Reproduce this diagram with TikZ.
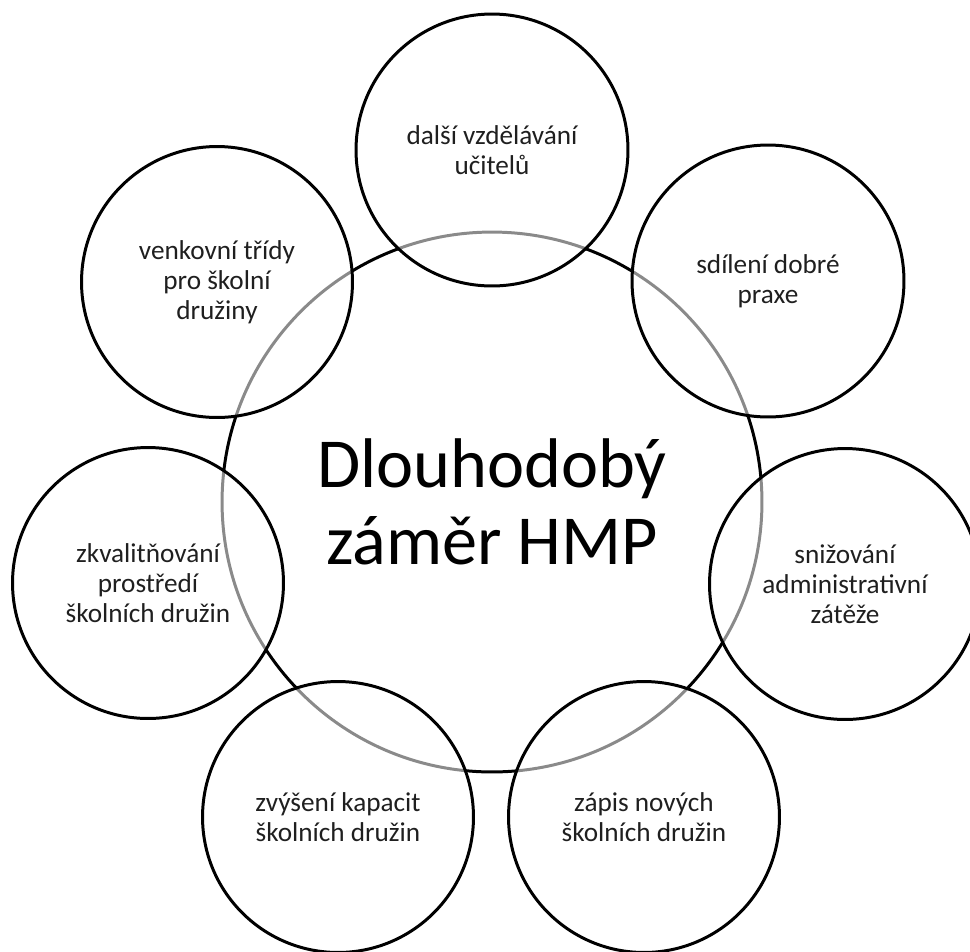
\documentclass[tikz,border=0pt]{standalone}
\usepackage{fontspec}
\setmainfont{Carlito}
\definecolor{hubgray}{HTML}{8A8A8A}
\begin{document}
\begin{tikzpicture}[x=0.02cm,y=-0.02cm,
  hub/.style={circle,draw=none,inner sep=0pt,
    minimum size=10.8cm,align=center,font=\fontsize{40}{44}\selectfont},
  topic/.style={circle,draw=black,line width=1.7pt,inner sep=0pt,
    minimum size=5.42cm,align=center,
    text=black!88,font=\fontsize{15.5}{17}\selectfont},
  hubblack/.style={draw=black,line width=1.7pt},
  hubline/.style={draw=hubgray,line width=1.7pt}]
\useasboundingbox (0,0) rectangle (970,951);
\node[hub] (hub) at (492,502) {Dlouhodobý\\záměr HMP};
\coordinate (c1) at (492,150);
\coordinate (c2) at (768,281);
\coordinate (c3) at (845,584);
\coordinate (c4) at (644,817);
\coordinate (c5) at (338,817);
\coordinate (c6) at (148,583);
\coordinate (c7) at (217,282);
% gray part of the hub outline, inside the small circles
\begin{scope}
  \clip (c1) circle[radius=2.72cm] (c2) circle[radius=2.72cm]
        (c3) circle[radius=2.71cm] (c4) circle[radius=2.71cm]
        (c5) circle[radius=2.71cm] (c6) circle[radius=2.71cm]
        (c7) circle[radius=2.71cm];
  \path[hubline] (hub.center) circle[radius=5.4cm];
\end{scope}
% black part of the hub outline, outside the small circles
\begin{scope}[even odd rule]
  \clip (-10,-10) rectangle (1000,1000)
        (c1) circle[radius=2.72cm] (c2) circle[radius=2.72cm]
        (c3) circle[radius=2.71cm] (c4) circle[radius=2.71cm]
        (c5) circle[radius=2.71cm] (c6) circle[radius=2.71cm]
        (c7) circle[radius=2.71cm];
  \path[hubblack] (hub.center) circle[radius=5.4cm];
\end{scope}
\node[topic,minimum size=5.44cm] (t1) at (c1) {další vzdělávání\\učitelů};
\node[topic,minimum size=5.44cm] (t2) at (c2) {sdílení dobré\\praxe};
\node[topic] (t3) at (c3) {snižování\\administrativní\\zátěže};
\node[topic] (t4) at (c4) {zápis nových\\školních družin};
\node[topic] (t5) at (c5) {zvýšení kapacit\\školních družin};
\node[topic] (t6) at (c6) {zkvalitňování\\prostředí\\školních družin};
\node[topic] (t7) at (c7) {venkovní třídy\\pro školní\\družiny};
\end{tikzpicture}
\end{document}
